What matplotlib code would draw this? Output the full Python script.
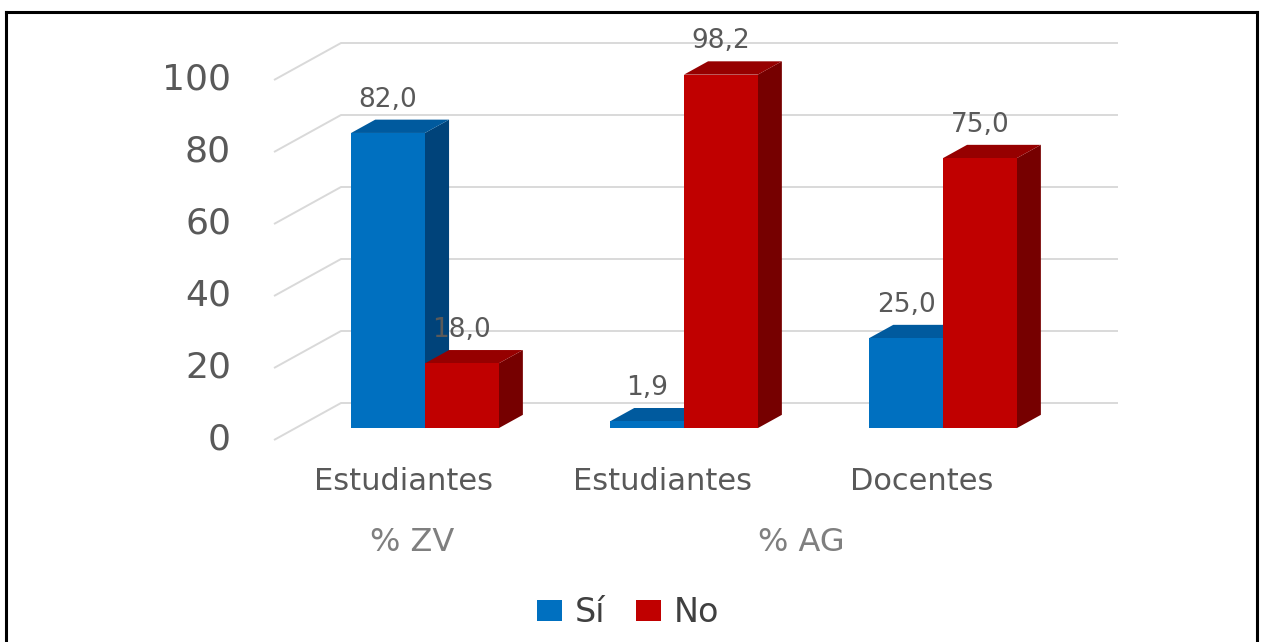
import matplotlib
matplotlib.use("Agg")
import matplotlib.pyplot as plt
from matplotlib.patches import Polygon, Patch
from matplotlib.lines import Line2D

plt.rcParams['font.family'] = ['DejaVu Sans']

# ---- data ----
categories = ["Estudiantes", "Estudiantes", "Docentes"]
groups = ["% ZV", "% AG"]
group_spans = [1, 2]
series_names = ["Sí", "No"]
si_values = [82.0, 1.9, 25.0]
no_values = [18.0, 98.2, 75.0]
y_ticks = [0, 20, 40, 60, 80, 100]

# ---- style ----
front_colors = ["#0070C0", "#C00000"]
top_colors = ["#005A9E", "#960000"]
side_colors = ["#00437A", "#760000"]
grid_color = "#D9D9D9"
text_color = "#595959"

W, H = 1261, 642
fig = plt.figure(figsize=(W / 100, H / 100), dpi=100)
ax = fig.add_axes([274 / W, 202 / H, 777 / W, 360 / H])
ax.set_xlim(0, len(categories))
ax.set_ylim(0, 100)
ax.axis("off")

# oblique depth direction (per unit depth), in data units
DX = 67 / 259
DY = 37 / 3.6
T_FRONT, T_BACK = 0.32, 0.68
BAR_W = 0.285

# back wall gridlines with their oblique floor/side segments
for v in y_ticks:
    ax.plot([0, DX, len(categories) + DX], [v, v + DY, v + DY],
            color=grid_color, lw=1.4, clip_on=False, zorder=1,
            solid_capstyle="butt")
    ax.text(-0.166, v, f"{v}", ha="right", va="center",
            fontsize=26, color=text_color)


def fmt(v):
    return f"{v:.1f}".replace(".", ",")


def draw_bar(x0, v, k):
    fx, fy = DX * T_FRONT, DY * T_FRONT
    bx, by = DX * T_BACK, DY * T_BACK
    x1 = x0 + BAR_W
    front = Polygon([(x0 + fx, fy), (x1 + fx, fy), (x1 + fx, v + fy), (x0 + fx, v + fy)],
                    closed=True, facecolor=front_colors[k], edgecolor="none",
                    clip_on=False, zorder=3)
    top = Polygon([(x0 + fx, v + fy), (x1 + fx, v + fy), (x1 + bx, v + by), (x0 + bx, v + by)],
                  closed=True, facecolor=top_colors[k], edgecolor="none",
                  clip_on=False, zorder=3)
    side = Polygon([(x1 + fx, fy), (x1 + bx, by), (x1 + bx, v + by), (x1 + fx, v + fy)],
                   closed=True, facecolor=side_colors[k], edgecolor="none",
                   clip_on=False, zorder=3)
    for p in (side, top, front):
        ax.add_patch(p)
    ax.text(x0 + BAR_W / 2 + fx, v + by + 20 / 3.6, fmt(v),
            ha="center", va="center", fontsize=19, color=text_color, zorder=5)


for i in range(len(categories)):
    start = i + 0.5 - BAR_W
    for k, vals in enumerate([si_values, no_values]):
        draw_bar(start + k * BAR_W, vals[i], k)
    ax.text(i + 0.5, -11.4, categories[i], ha="center", va="center",
            fontsize=22, color=text_color)

pos = 0
for g, span in zip(groups, group_spans):
    ax.text(pos + span / 2 + 0.035, -28.6, g, ha="center", va="center",
            fontsize=23, color="#7F7F7F")
    pos += span

handles = [Patch(facecolor=c, edgecolor="none") for c in front_colors]
fig.legend(handles, series_names, loc="center",
           bbox_to_anchor=(628 / W, 1 - 613 / H), ncol=2, frameon=False,
           fontsize=24, handlelength=0.75, handleheight=0.6,
           handletextpad=0.4, columnspacing=0.9, labelcolor="#404040")

# outer frame (left, top, right)
frame_kw = dict(transform=fig.transFigure, color="black", lw=2.2)
fig.add_artist(Line2D([6 / W, 6 / W], [0, 1 - 12 / H], **frame_kw))
fig.add_artist(Line2D([6 / W, 1257 / W], [1 - 12 / H, 1 - 12 / H], **frame_kw))
fig.add_artist(Line2D([1257 / W, 1257 / W], [0, 1 - 12 / H], **frame_kw))

fig.savefig("out.png", dpi=100, facecolor="white")
